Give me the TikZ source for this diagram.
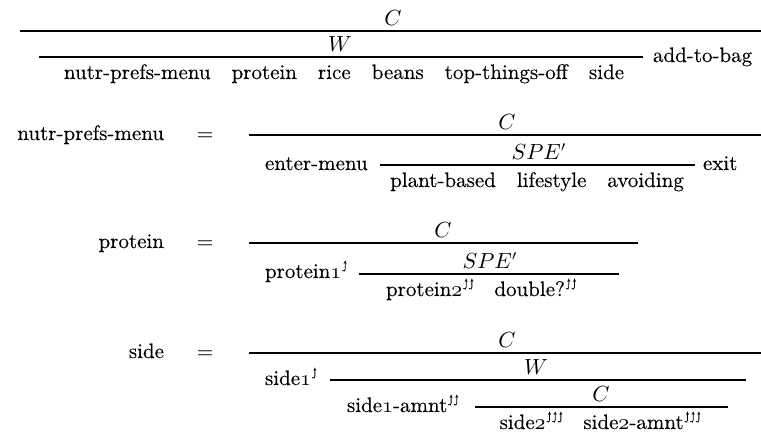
\documentclass[tikz,border=0pt]{standalone}
\usepackage{fontspec}
\setmainfont{Latin Modern Roman}[FakeBold=0.2]
\newcommand\osf[1]{{\usefont{OML}{cmm}{m}{it}#1}}
% hooked up-arrow symbol (no installed font has it), drawn as a small shape
\newcommand\hk{\tikz[baseline=0pt,x=1pt,y=1pt,line width=0.4pt,line cap=round]{%
  \draw (0,0.6) .. controls (0.5,0) and (1.3,0.1) .. (1.3,1.2) -- (1.3,4.4);
  \fill (0.55,3.9) -- (1.3,5.6) -- (2.05,3.9) -- (1.3,4.3) -- cycle;}}
\newcommand\ua{\hspace{0.4pt}\raisebox{3.2pt}{\hk}}
\newcommand\uaa{\hspace{0.4pt}\raisebox{3.2pt}{\hk\hspace{0.6pt}\hk}}
\newcommand\uaaa{\hspace{0.4pt}\raisebox{3.2pt}{\hk\hspace{0.6pt}\hk\hspace{0.6pt}\hk}}
\tikzset{
  txt/.style={inner sep=0pt, outer sep=0pt, anchor=base, font=\fontsize{10.5}{12.6}\selectfont},
  lefttxt/.style={txt, anchor=base west},
  righttxt/.style={txt, anchor=base east},
  rulebar/.style={line width=0.65pt}
}
\begin{document}
\begin{tikzpicture}[x=0.5pt, y=-0.5pt]
\useasboundingbox (0,0) rectangle (761,435);
% ---------- section 1 ----------
\coordinate (a1) at (20,31);   \coordinate (a2) at (761,31);
\coordinate (b1) at (39,57);   \coordinate (b2) at (643,57);
\draw[rulebar] (a1) -- (a2);
\draw[rulebar] (b1) -- (b2);
\node[txt] (s1C) at (393,25) {$C$};
\node[txt] (s1W) at (340,51) {$W$};
\node[txt] (s1prem) at (344,79) {nutr-prefs-menu\quad protein\quad rice\quad beans\quad top-things-off\quad side};
\node[lefttxt] (s1bag) at (653,62) {add-to-bag};
% ---------- section 2 ----------
\node[righttxt] (s2name) at (164,140) {nutr-prefs-menu};
\node[txt] (s2eq) at (205,140) {=};
\coordinate (c1) at (249,135); \coordinate (c2) at (761,135);
\draw[rulebar] (c1) -- (c2);
\node[txt] (s2C) at (507,129) {$C$};
\node[lefttxt] (s2enter) at (265,170) {enter-menu};
\coordinate (d1) at (380,165); \coordinate (d2) at (695,165);
\draw[rulebar] (d1) -- (d2);
\node[txt] (s2SPE) at (539,159) {$SPE'$};
\node[txt] (s2prem) at (537,187) {plant-based\quad lifestyle\quad avoiding};
\node[lefttxt] (s2exit) at (703,170) {exit};
% ---------- section 3 ----------
\node[righttxt] (s3name) at (164,248) {protein};
\node[txt] (s3eq) at (205,248) {=};
\coordinate (e1) at (249,243); \coordinate (e2) at (638,243);
\draw[rulebar] (e1) -- (e2);
\node[txt] (s3C) at (443,237) {$C$};
\node[lefttxt] (s3p1) at (265,278) {protein\osf{1}\ua};
\coordinate (f1) at (359,274); \coordinate (f2) at (619,274);
\draw[rulebar] (f1) -- (f2);
\node[txt] (s3SPE) at (490,268) {$SPE'$};
\node[txt] (s3prem) at (481,296) {protein\osf{2}\uaa\quad double?\uaa};
% ---------- section 4 ----------
\node[righttxt] (s4name) at (164,358) {side};
\node[txt] (s4eq) at (205,358) {=};
\coordinate (g1) at (249,353); \coordinate (g2) at (761,353);
\draw[rulebar] (g1) -- (g2);
\node[txt] (s4C) at (507,347) {$C$};
\node[lefttxt] (s4side1) at (265,385) {side\osf{1}\ua};
\coordinate (h1) at (330,380); \coordinate (h2) at (746,380);
\draw[rulebar] (h1) -- (h2);
\node[txt] (s4W) at (536,374) {$W$};
\node[lefttxt] (s4amnt) at (347,412) {side\osf{1}-amnt\uaa};
\coordinate (i1) at (475,407); \coordinate (i2) at (728,407);
\draw[rulebar] (i1) -- (i2);
\node[txt] (s4C2) at (601,401) {$C$};
\node[txt] (s4prem) at (600,429) {side\osf{2}\uaaa\quad side\osf{2}-amnt\uaaa};
\end{tikzpicture}
\end{document}
